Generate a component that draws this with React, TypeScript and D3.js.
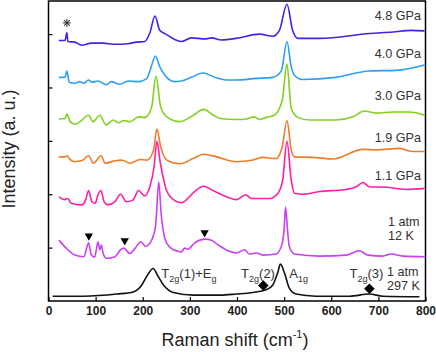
import React, { useRef, useEffect } from "react";
import * as d3 from "d3";

// Raman spectra: [shift (cm-1), intensity (a.u., offset)]
const gpa48 = [[22, 4.88], [35, 4.88], [39, 5.03], [41, 4.86], [56, 4.85], [70, 4.79], [91, 4.83], [116, 4.83], [140, 4.81], [169, 4.82], [186, 4.85], [204, 4.86], [215, 5.02], [226, 5.34], [236, 5.07], [247, 5.01], [268, 4.9], [282, 4.86], [303, 4.93], [332, 4.91], [346, 4.93], [367, 4.89], [398, 4.92], [448, 5.0], [476, 4.96], [490, 5.07], [506, 5.56], [518, 5.07], [529, 4.92], [575, 4.92], [681, 5.01], [731, 5.04], [770, 5.07], [798, 5.06]];
const gpa40 = [[22, 4.19], [35, 4.19], [39, 4.31], [44, 4.1], [56, 4.08], [66, 4.11], [75, 4.08], [85, 4.14], [92, 4.1], [105, 4.12], [123, 4.05], [133, 4.11], [151, 4.06], [169, 4.12], [190, 4.11], [208, 4.16], [218, 4.39], [227, 4.59], [236, 4.39], [247, 4.23], [268, 4.11], [282, 4.12], [303, 4.19], [328, 4.27], [353, 4.19], [381, 4.14], [398, 4.14], [441, 4.17], [476, 4.19], [494, 4.31], [506, 4.86], [515, 4.39], [525, 4.2], [540, 4.15], [610, 4.19], [681, 4.31], [738, 4.32], [798, 4.42]];
const gpa30 = [[22, 3.41], [35, 3.42], [39, 3.5], [46, 3.36], [56, 3.31], [67, 3.36], [85, 3.48], [94, 3.36], [109, 3.48], [122, 3.3], [138, 3.39], [148, 3.34], [160, 3.38], [173, 3.36], [191, 3.45], [205, 3.44], [219, 3.64], [228, 4.21], [238, 3.64], [251, 3.45], [279, 3.36], [304, 3.46], [329, 3.59], [350, 3.48], [364, 3.42], [399, 3.4], [419, 3.41], [437, 3.45], [448, 3.4], [462, 3.44], [479, 3.48], [496, 3.76], [506, 4.44], [515, 3.61], [529, 3.44], [554, 3.39], [610, 3.39], [646, 3.45], [670, 3.56], [695, 3.52], [731, 3.54], [766, 3.54], [798, 3.48]];
const gpa19 = [[22, 2.7], [35, 2.7], [39, 2.72], [46, 2.65], [56, 2.61], [71, 2.63], [85, 2.72], [95, 2.58], [112, 2.72], [120, 2.58], [138, 2.62], [155, 2.64], [173, 2.58], [194, 2.65], [209, 2.64], [223, 2.83], [230, 3.22], [238, 2.89], [251, 2.64], [279, 2.57], [307, 2.67], [329, 2.75], [357, 2.7], [398, 2.61], [434, 2.64], [455, 2.69], [483, 2.67], [496, 2.89], [506, 3.38], [515, 2.83], [522, 2.7], [561, 2.69], [603, 2.66], [667, 2.84], [695, 2.83], [745, 2.86], [773, 2.8], [798, 2.8]];
const gpa11 = [[22, 1.95], [34, 1.9], [41, 1.92], [48, 1.83], [70, 1.8], [79, 1.9], [85, 2.07], [92, 1.86], [99, 1.83], [105, 1.99], [111, 2.07], [118, 1.86], [126, 1.8], [141, 1.86], [153, 2.0], [165, 1.86], [179, 1.89], [191, 2.07], [204, 1.97], [215, 2.14], [224, 2.51], [230, 2.99], [237, 2.6], [243, 2.33], [250, 2.08], [268, 1.88], [282, 1.84], [310, 2.05], [328, 2.15], [353, 2.05], [381, 1.94], [399, 1.9], [419, 1.99], [430, 1.92], [469, 1.92], [487, 2.02], [497, 2.27], [506, 2.99], [515, 2.27], [522, 2.02], [540, 2.0], [575, 2.05], [632, 2.09], [653, 2.14], [667, 2.22], [681, 2.14], [717, 2.13], [759, 2.09], [798, 2.11]];
const atm12K = [[22, 1.14], [41, 0.96], [56, 0.86], [75, 0.83], [80, 0.96], [85, 1.09], [91, 0.86], [98, 0.82], [105, 1.11], [109, 0.96], [112, 1.05], [116, 0.89], [123, 0.8], [141, 0.83], [153, 0.96], [160, 0.99], [172, 0.89], [184, 0.99], [196, 1.11], [206, 1.02], [215, 1.08], [227, 1.39], [234, 2.23], [239, 1.64], [247, 1.17], [257, 1.01], [271, 0.94], [282, 0.92], [289, 0.99], [296, 0.97], [310, 1.09], [332, 1.16], [346, 1.14], [360, 1.05], [381, 0.94], [399, 0.9], [416, 0.96], [426, 0.88], [441, 0.9], [455, 0.86], [483, 0.88], [496, 1.08], [500, 1.35], [503, 1.76], [507, 1.35], [511, 1.02], [522, 0.88], [575, 0.84], [632, 0.86], [659, 0.94], [678, 0.86], [709, 0.84], [727, 0.88], [752, 0.84], [798, 0.83]];
const atm297K = [[9, 0.09], [74, 0.09], [145, 0.13], [180, 0.17], [198, 0.3], [209, 0.47], [222, 0.61], [232, 0.47], [244, 0.3], [265, 0.16], [307, 0.11], [364, 0.11], [398, 0.13], [434, 0.16], [462, 0.21], [476, 0.3], [487, 0.55], [492, 0.69], [501, 0.52], [511, 0.24], [525, 0.13], [568, 0.09], [639, 0.09], [681, 0.13], [709, 0.09], [787, 0.08]];

const seriesNames = ["4.8 GPa", "4.0 GPa", "3.0 GPa", "1.9 GPa", "1.1 GPa", "1 atm 12 K", "1 atm 297 K"];
const xTicks = [0, 100, 200, 300, 400, 500, 600, 700, 800];
const yTicks = [1, 2, 3, 4, 5];

// marker positions [shift, intensity]
const triangleMarks = [[85.6, 1.22], [161.8, 1.13], [331.2, 1.28]];
const diamondMarks = [[455.8, 0.29], [681, 0.23]];
const asteriskMark = [39, 5.21];

const App = () => {
  const d3Container = useRef(null);

  useEffect(() => {
    if (!d3Container.current) return;
    const svg = d3.select(d3Container.current);
    svg.selectAll("*").remove();

    const font = "'Liberation Sans', Arial, sans-serif";
    const left = 48.5, right = 425.5, top = 1, bottom = 301;

    const x = d3.scaleLinear().domain([0, 800]).range([left, right]);
    const y = d3.scaleLinear().domain([0, 5.62]).range([bottom, top]);

    const colors = ["#4422e8", "#2e9ff5", "#80d21e", "#f07c2a", "#ff1fa6", "#cc3ef2", "#111111"];
    const allData = [gpa48, gpa40, gpa30, gpa19, gpa11, atm12K, atm297K];

    const line = d3
      .line()
      .x((d) => x(d[0]))
      .y((d) => y(d[1]))
      .curve(d3.curveMonotoneX);

    // traces
    allData.forEach((data, i) => {
      svg
        .append("path")
        .datum(data)
        .attr("d", line)
        .attr("fill", "none")
        .attr("stroke", colors[i])
        .attr("stroke-width", 1.6)
        .attr("stroke-linejoin", "round");
    });

    // frame
    svg
      .append("rect")
      .attr("x", left)
      .attr("y", top)
      .attr("width", right - left)
      .attr("height", bottom - top)
      .attr("fill", "none")
      .attr("stroke", "#000")
      .attr("stroke-width", 1.5);

    // x axis
    const xAxis = svg
      .append("g")
      .attr("transform", `translate(0,${bottom})`)
      .call(d3.axisBottom(x).tickValues(xTicks).tickSizeInner(-4).tickSizeOuter(0).tickPadding(5.5));
    xAxis.select(".domain").remove();
    xAxis.selectAll("line").attr("stroke", "#000").attr("stroke-width", 1.2);
    xAxis
      .selectAll("text")
      .attr("font-family", font)
      .attr("font-size", 12)
      .attr("font-weight", "bold")
      .attr("fill", "#222");

    // y axis (no labels)
    const yAxis = svg
      .append("g")
      .attr("transform", `translate(${left},0)`)
      .call(d3.axisLeft(y).tickValues(yTicks).tickSizeInner(-4).tickSizeOuter(0).tickFormat(() => ""));
    yAxis.select(".domain").remove();
    yAxis.selectAll("line").attr("stroke", "#000").attr("stroke-width", 1.2);

    // axis titles
    const xt = svg
      .append("text")
      .attr("x", 235)
      .attr("y", 346)
      .attr("text-anchor", "middle")
      .attr("font-family", font)
      .attr("font-size", 18)
      .attr("fill", "#222");
    xt.append("tspan").text("Raman shift (cm");
    xt.append("tspan").attr("font-size", 11).attr("dy", -8).text("-1");
    xt.append("tspan").attr("dy", 8).text(")");

    svg
      .append("text")
      .attr("transform", "translate(15,149) rotate(-90)")
      .attr("text-anchor", "middle")
      .attr("font-family", font)
      .attr("font-size", 18)
      .attr("fill", "#222")
      .text("Intensity (a. u.)");

    // series labels, one text element per line
    const labelLayout = [
      { lines: ["4.8 GPa"], x: 421, y: 19.5, anchor: "end" },
      { lines: ["4.0 GPa"], x: 421, y: 57.5, anchor: "end" },
      { lines: ["3.0 GPa"], x: 421, y: 99.5, anchor: "end" },
      { lines: ["1.9 GPa"], x: 421, y: 141.5, anchor: "end" },
      { lines: ["1.1 GPa"], x: 421, y: 179.5, anchor: "end" },
      { lines: ["1 atm", "12 K"], x: 388, y: 226, anchor: "start" },
      { lines: ["1 atm", "297 K"], x: 387, y: 276, anchor: "start" },
    ];
    labelLayout.forEach((l, i) => {
      l.lines.forEach((s, j) => {
        svg
          .append("text")
          .attr("x", l.x)
          .attr("y", l.y + j * 13.6)
          .attr("text-anchor", l.anchor)
          .attr("font-family", font)
          .attr("font-size", 12.6)
          .attr("fill", "#333")
          .attr("data-series", seriesNames[i])
          .text(s);
      });
    });

    // mode labels with subscripts
    const modeLabel = (px, parts) => {
      const t = svg
        .append("text")
        .attr("x", px)
        .attr("y", 278)
        .attr("font-family", font)
        .attr("font-size", 13)
        .attr("fill", "#333");
      let shift = 0;
      parts.forEach(([s, sub]) => {
        const dy = sub ? 4 - shift : -shift;
        shift = sub ? 4 : 0;
        t.append("tspan")
          .attr("dy", dy)
          .attr("font-size", sub ? 9 : 13)
          .text(s);
      });
    };
    modeLabel(x(239.5), [["T", 0], ["2g", 1], ["(1)+E", 0], ["g", 1]]);
    modeLabel(x(408.7), [["T", 0], ["2g", 1], ["(2)", 0]]);
    modeLabel(x(511), [["A", 0], ["1g", 1]]);
    modeLabel(x(638.6), [["T", 0], ["2g", 1], ["(3)", 0]]);

    // markers
    svg
      .selectAll(".tri")
      .data(triangleMarks)
      .enter()
      .append("path")
      .attr("d", d3.symbol(d3.symbolTriangle, 30)())
      .attr("transform", (d) => `translate(${x(d[0])},${y(d[1])}) rotate(180)`)
      .attr("fill", "#000");

    svg
      .selectAll(".dia")
      .data(diamondMarks)
      .enter()
      .append("path")
      .attr("d", d3.symbol(d3.symbolSquare, 56)())
      .attr("transform", (d) => `translate(${x(d[0])},${y(d[1])}) rotate(45)`)
      .attr("fill", "#000");

    const ax = x(asteriskMark[0]), ay = y(asteriskMark[1]);
    const star = svg.append("g").attr("transform", `translate(${ax},${ay})`);
    [0, 45, 90, 135].forEach((a) => {
      star
        .append("line")
        .attr("x1", -4)
        .attr("x2", 4)
        .attr("transform", `rotate(${a})`)
        .attr("stroke", "#333")
        .attr("stroke-width", 1);
    });
  }, []);

  return (
    <svg
      ref={d3Container}
      width={436}
      height={352}
      style={{ position: "absolute", left: 0, top: 0, background: "#fff" }}
    />
  );
};

export default App;
